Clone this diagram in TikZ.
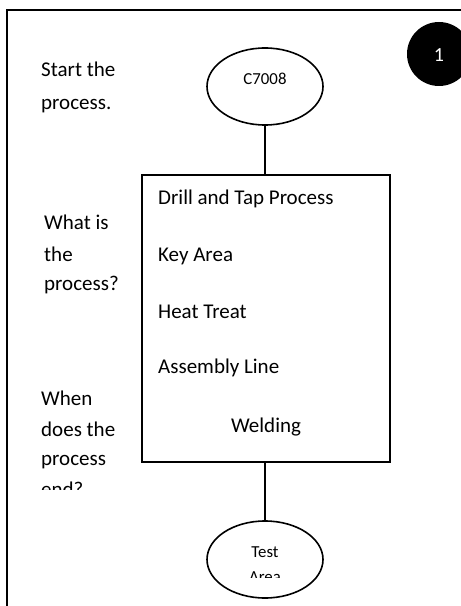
\documentclass[tikz,border=0pt]{standalone}
\usepackage{fontspec}
\setmainfont{Carlito}
\usetikzlibrary{shapes.geometric}
\begin{document}
\begin{tikzpicture}[x=1bp,y=-1bp,
  outline/.style={line width=1.6bp,draw=black},
  oval/.style={outline,ellipse,minimum width=116bp,minimum height=77bp,inner sep=0pt},
  stepbox/.style={outline,rectangle,minimum width=248bp,minimum height=287bp,inner sep=0pt},
  big/.style={inner sep=0pt,font=\fontsize{21bp}{25bp}\selectfont},
  small/.style={inner sep=0pt,font=\fontsize{16.8bp}{20bp}\selectfont},
  link/.style={line width=1.6bp}]
\useasboundingbox (0,0) rectangle (461,606);
\clip (0,0) rectangle (461,606);
\fill[white] (0,0) rectangle (461,606);

% page frame
\draw[line width=2bp] (7,606) -- (7,10) -- (461,10);

% step number badge
\fill[black] (439,54) circle (32bp);
\node[small,anchor=base,text=white,font=\fontsize{20bp}{24bp}\selectfont] (num) at (439,62) {1};

% flow shapes
\node[oval] (start) at (265,86.5) {};
\node[small,anchor=base] (startlbl) at (265,85) {C7008};
\node[stepbox] (proc) at (266,318.5) {};
\node[oval] (finish) at (265,559.5) {};
\draw[link] (start) -- (start|-proc.north);
\draw[link] (finish|-proc.south) -- (finish);

% labels of the end oval (text box cut off at its bottom)
\begin{scope}
  \clip (200,530) rectangle (330,577);
  \node[small,anchor=base] (fin1) at (265,557) {Test};
  \node[small,anchor=base] (fin2) at (265,582) {Area};
\end{scope}

% steps in the process box
\node[big,anchor=base west] (s1) at (158,204) {Drill and Tap Process};
\node[big,anchor=base west] (s2) at (158,261) {Key Area};
\node[big,anchor=base west] (s3) at (158,318) {Heat Treat};
\node[big,anchor=base west] (s4) at (158,373) {Assembly Line};
\node[big,anchor=base] (s5) at (266,432) {Welding};

% questions on the left
\node[big,anchor=base west] (qa1) at (41,77) {Start the};
\node[big,anchor=base west] (qa2) at (41,110) {process.};
\node[big,anchor=base west] (qb1) at (44,229) {What is};
\node[big,anchor=base west] (qb2) at (44,261) {the};
\node[big,anchor=base west] (qb3) at (44,290) {process?};
\begin{scope}
  \clip (30,380) rectangle (140,489);
  \node[big,anchor=base west] (qc1) at (41,405) {When};
  \node[big,anchor=base west] (qc2) at (41,436) {does the};
  \node[big,anchor=base west] (qc3) at (41,465) {process};
  \node[big,anchor=base west] (qc4) at (41,496) {end?};
\end{scope}
\end{tikzpicture}
\end{document}
